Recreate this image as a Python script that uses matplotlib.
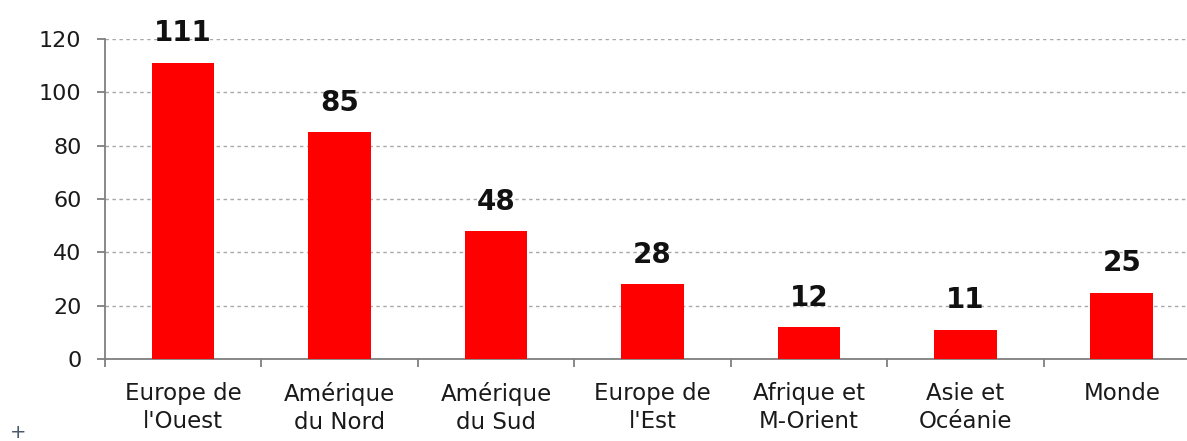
import matplotlib
matplotlib.use("Agg")
import matplotlib.pyplot as plt
import numpy as np

categories = ["Europe de\nl'Ouest", "Amérique\ndu Nord", "Amérique\ndu Sud",
              "Europe de\nl'Est", "Afrique et\nM-Orient", "Asie et\nOcéanie", "Monde"]
values = [111, 85, 48, 28, 12, 11, 25]
yticks = [0, 20, 40, 60, 80, 100, 120]

W, H = 1187, 441
fig = plt.figure(figsize=(W / 100, H / 100), dpi=100)
left_px, right_px = 105, 1200
bottom_px, top_px = 359.3, 38.7
ax = fig.add_axes([left_px / W, 1 - bottom_px / H,
                   (right_px - left_px) / W, (bottom_px - top_px) / H])

x = np.arange(len(categories))
ax.bar(x, values, width=0.4, color="#ff0000", zorder=3)

ax.set_xlim(-0.5, len(categories) - 0.5)
ax.set_ylim(0, 120)
ax.set_yticks(yticks)
ax.yaxis.grid(True, linestyle=(0, (2.5, 2.5)), color="#a8a8a8", linewidth=1.0, zorder=0)
ax.set_axisbelow(True)

for s in ["top", "right"]:
    ax.spines[s].set_visible(False)
for s in ["left", "bottom"]:
    ax.spines[s].set_color("#7f7f7f")
    ax.spines[s].set_linewidth(1.3)

ax.set_xticks(x)
ax.set_xticklabels(categories, fontsize=16.5, color="#1a1a1a", linespacing=1.32)
ax.set_xticks(np.arange(len(categories) + 1) - 0.5, minor=True)
ax.tick_params(axis="x", which="major", length=0, pad=16)
ax.tick_params(axis="x", which="minor", length=6, width=1.3, color="#7f7f7f", direction="out")
ax.tick_params(axis="y", length=6, width=1.3, color="#7f7f7f", direction="out",
               labelsize=16, labelcolor="#1a1a1a", pad=11)

for xi, v in zip(x, values):
    ax.annotate(str(v), (xi, v), xytext=(0, 15.5), textcoords="offset points",
                ha="center", va="baseline", fontsize=20, fontweight="bold", color="#111111")

fig.text(18 / W, 1 - 432 / H, "+", fontsize=14, color="#4a5a6a", ha="center", va="center")

fig.savefig("out.png", dpi=100)
